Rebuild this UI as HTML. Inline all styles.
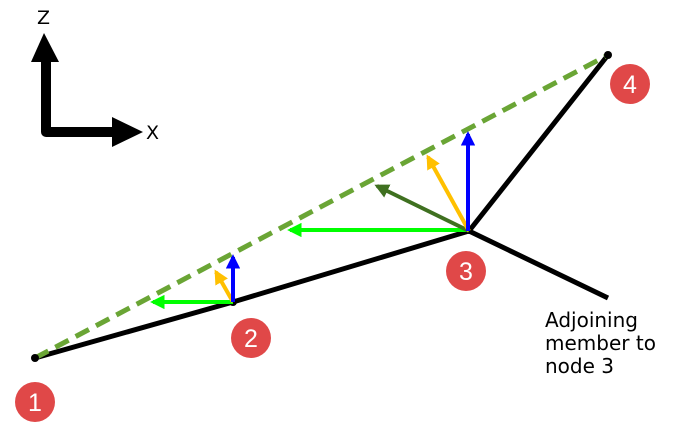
<!DOCTYPE html>
<html><head><style>body{margin:0;background:#fff}svg{display:block}</style></head><body>
<svg width="674" height="439" viewBox="0 0 674 439" xmlns="http://www.w3.org/2000/svg" font-family="'DejaVu Sans','Liberation Sans',sans-serif">
<defs>
<marker id="mb" viewBox="0 0 10 10" refX="8" refY="5" markerWidth="3.6" markerHeight="3.6" orient="auto"><path d="M0,0L10,5L0,10z" fill="#0000ff"/></marker>
<marker id="my" viewBox="0 0 10 10" refX="8" refY="5" markerWidth="3.6" markerHeight="3.6" orient="auto"><path d="M0,0L10,5L0,10z" fill="#ffc000"/></marker>
<marker id="mg" viewBox="0 0 10 10" refX="8" refY="5" markerWidth="3.6" markerHeight="3.6" orient="auto"><path d="M0,0L10,5L0,10z" fill="#00ff00"/></marker>
<marker id="md" viewBox="0 0 10 10" refX="8" refY="5" markerWidth="3.6" markerHeight="3.6" orient="auto"><path d="M0,0L10,5L0,10z" fill="#3f7020"/></marker>
</defs>
<path d="M46,60 L46,132 L115,132" stroke="#000" stroke-width="10" fill="none" stroke-linejoin="round"/>
<path d="M44,33 L31,62 L59,62z" fill="#000"/>
<path d="M143,132 L112,117 L112,147z" fill="#000"/>
<text x="37" y="24" font-size="19">Z</text>
<text x="146" y="139" font-size="19">X</text>
<path d="M35,358 L233,302 L469,231 L608,55 M469,231 L608,298" stroke="#000" stroke-width="5" fill="none"/>
<line x1="35" y1="358" x2="608" y2="55" stroke="#6aa535" stroke-width="5" stroke-dasharray="15,8"/>
<circle cx="35" cy="358" r="4" fill="#000"/><circle cx="233" cy="302" r="4" fill="#000"/><circle cx="469" cy="231" r="3" fill="#000"/><circle cx="608" cy="55" r="4" fill="#000"/>
<line x1="233" y1="302" x2="153" y2="302" stroke="#00ff00" stroke-width="4" marker-end="url(#mg)"/>
<line x1="233" y1="302" x2="216" y2="272" stroke="#ffc000" stroke-width="4" marker-end="url(#my)"/>
<line x1="233" y1="302" x2="233" y2="257" stroke="#0000ff" stroke-width="4" marker-end="url(#mb)"/>
<line x1="469" y1="230" x2="290" y2="230" stroke="#00ff00" stroke-width="4" marker-end="url(#mg)"/>
<line x1="469" y1="231" x2="377" y2="186" stroke="#3f7020" stroke-width="4" marker-end="url(#md)"/>
<line x1="469" y1="231" x2="428" y2="157" stroke="#ffc000" stroke-width="4" marker-end="url(#my)"/>
<line x1="468" y1="231" x2="468" y2="134" stroke="#0000ff" stroke-width="4" marker-end="url(#mb)"/>
<g fill="#e04848"><circle cx="35" cy="402" r="20"/><circle cx="251" cy="338" r="20"/><circle cx="466" cy="271" r="20"/><circle cx="630" cy="84" r="20"/></g>
<g fill="#fff" font-size="25" text-anchor="middle" font-family="'Liberation Sans',sans-serif"><text x="35" y="411">1</text><text x="251" y="347">2</text><text x="466" y="280">3</text><text x="630" y="93">4</text></g>
<g font-size="20" fill="#000"><text x="545" y="327">Adjoining</text><text x="545" y="350">member to</text><text x="545" y="373">node 3</text></g>
</svg>
</body></html>
